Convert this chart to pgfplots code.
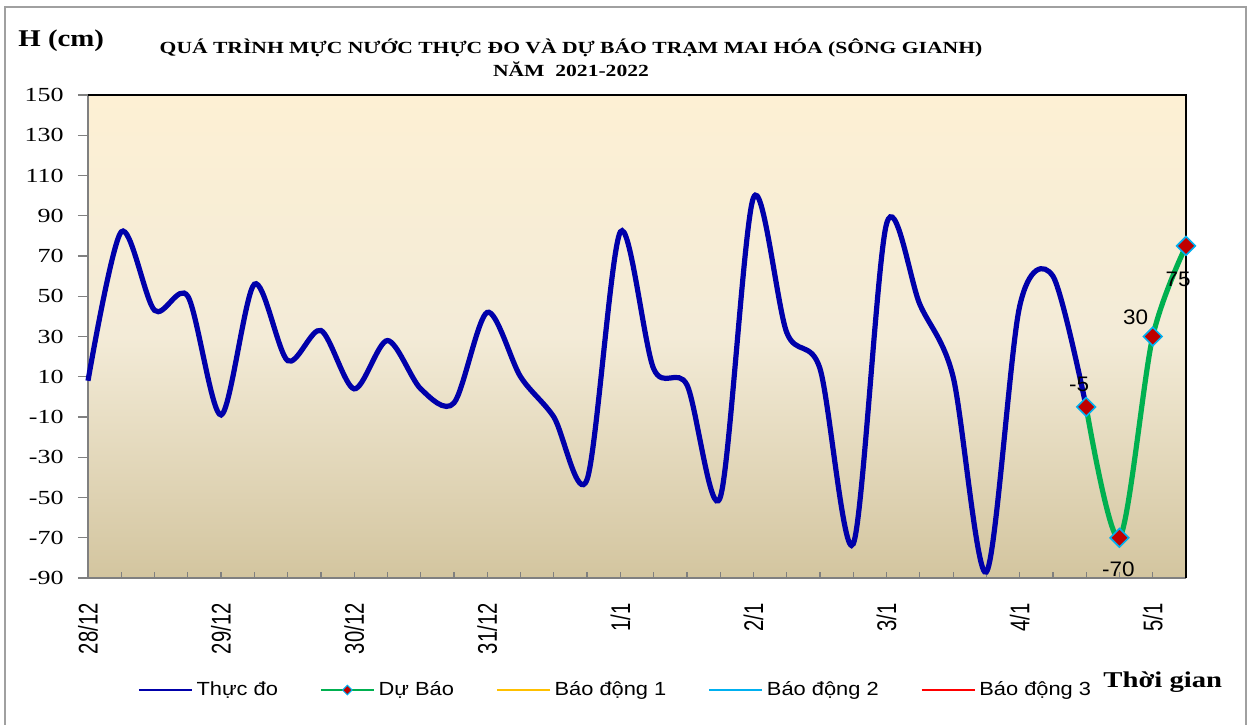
\documentclass[border=0pt]{standalone}
\usepackage{fontspec}
\setmainfont{Liberation Serif}
\setsansfont{Liberation Sans}
\newfontfamily\yfont[FakeStretch=1.3]{Liberation Serif}
\newfontfamily\ttlfont[FakeStretch=1.27]{Liberation Serif}
\newfontfamily\hfont[FakeStretch=1.2]{Liberation Serif}
\newfontfamily\xfont[FakeStretch=0.75]{Liberation Sans}
\newfontfamily\legfont[FakeStretch=1.15]{Liberation Sans}
\newfontfamily\lblfont[FakeStretch=1.07]{Liberation Sans}
\usepackage{pgfplots}
\pgfplotsset{compat=1.18}
\definecolor{bgtop}{RGB}{253,240,212}
\definecolor{bgmid}{RGB}{243,235,215}
\definecolor{bgbot}{RGB}{211,197,159}
\definecolor{axisgray}{RGB}{128,128,128}
\definecolor{framegray}{RGB}{160,160,160}
\definecolor{obsblue}{RGB}{0,0,170}
\definecolor{fcgreen}{RGB}{0,176,80}
\definecolor{mkred}{RGB}{192,0,0}
\definecolor{mkcyan}{RGB}{0,176,240}
\definecolor{bd1}{RGB}{255,192,0}
\definecolor{bd2}{RGB}{0,176,240}
\definecolor{bd3}{RGB}{255,0,0}
\begin{document}
\begin{tikzpicture}
\useasboundingbox (0,0) rectangle (626.5pt,-362pt);
\draw[framegray, line width=0.8pt] (2.5pt,-370pt) -- (2.5pt,-3.5pt) -- (623pt,-3.5pt) -- (623pt,-370pt);
\begin{axis}[
  at={(44pt,-289pt)}, anchor=south west,
  scale only axis, width=549pt, height=241.5pt,
  xmin=0, xmax=33, ymin=-90, ymax=150,
  clip=false,
  axis x line*=bottom, axis y line*=left,
  axis line style={-, draw=axisgray, line width=0.8pt},
  axis background/.style={top color=bgtop, bottom color=bgbot, middle color=bgmid},
  xtick={0,4,...,32},
  xticklabels={28/12,29/12,30/12,31/12,1/1,2/1,3/1,4/1,5/1},
  minor xtick={0,...,33},
  ytick={-90,-70,...,150},
  yticklabels={-90,-70,-50,-30,-10,10,30,50,70,90,110,130,150},
  xtick align=inside, ytick align=outside,
  major tick length=3pt, minor tick length=3pt,
  ytick style={/pgfplots/major tick length=5pt},
  tick style={draw=axisgray, line width=0.6pt},
  xticklabel style={rotate=90, anchor=east, inner sep=0pt, font=\xfont\fontsize{13.5pt}{14pt}\selectfont},
  xticklabel shift=12.5pt,
  yticklabel style={anchor=east, inner sep=0pt, font=\yfont\fontsize{10pt}{12pt}\selectfont},
  yticklabel shift=9pt,
  legend columns=5,
  legend style={at={(0.4814,-0.2319)}, anchor=center, draw=none, fill=none,
    font=\legfont\fontsize{9.5pt}{11pt}\selectfont,
    /tikz/every even column/.append style={column sep=19pt}},
  legend image code/.code={\draw[mark repeat=2,mark phase=2,#1] plot coordinates {(0pt,0pt) (13.25pt,0pt) (26.5pt,0pt)};},
]
\addplot[obsblue, line width=2.6pt, smooth, forget plot] coordinates {
(0,8) (1,82) (2,43) (3,50) (4,-9) (5,56) (6,18) (7,33) (8,4) (9,28)
(10,4) (11,-3) (12,42) (13,10) (14,-10) (15,-41) (16,82) (17,14) (18,6) (19,-50)
(20,99) (21,32) (22,14) (23,-73) (24,86) (25,46) (26,10) (27,-87) (28,45) (29,60) (30,-5)
};
\addplot[fcgreen, line width=2.6pt, smooth, forget plot, mark=square*, mark size=3.3pt,
  mark options={rotate=45, fill=mkred, draw=mkcyan, line width=0.8pt, solid}] coordinates {
(30,-5) (31,-70) (32,30) (33,75)
};
\addlegendimage{obsblue, line width=0.8pt}
\addlegendentry{Thực đo}
\addlegendimage{fcgreen, line width=0.8pt, mark=square*, mark size=1.7pt, mark options={rotate=45, fill=mkred, draw=mkcyan, line width=0.5pt}}
\addlegendentry{Dự Báo}
\addlegendimage{bd1, line width=0.8pt}
\addlegendentry{Báo động 1}
\addlegendimage{bd2, line width=0.8pt}
\addlegendentry{Báo động 2}
\addlegendimage{bd3, line width=0.8pt}
\addlegendentry{Báo động 3}
\draw[black, line width=0.8pt] (rel axis cs:0,1) -- (rel axis cs:1,1) -- (rel axis cs:1,0);
\node[font=\lblfont\fontsize{10.5pt}{12pt}\selectfont, xshift=-3.5pt, yshift=11.5pt] at (axis cs:30,-5) {-5};
\node[font=\lblfont\fontsize{10.5pt}{12pt}\selectfont, xshift=-0.5pt, yshift=-16pt] at (axis cs:31,-70) {-70};
\node[font=\lblfont\fontsize{10.5pt}{12pt}\selectfont, xshift=-8.5pt, yshift=9.5pt] at (axis cs:32,30) {30};
\node[font=\lblfont\fontsize{10.5pt}{12pt}\selectfont, xshift=-4pt, yshift=-16.5pt] at (axis cs:33,75) {75};
\end{axis}
\node[anchor=west, font=\hfont\bfseries\fontsize{12pt}{14pt}\selectfont, inner sep=0pt] at (9pt,-20.5pt) {H (cm)};
\node[align=center, font=\ttlfont\bfseries\fontsize{8.5pt}{11.5pt}\selectfont] at (285.5pt,-29pt) {QUÁ TRÌNH MỰC NƯỚC THỰC ĐO VÀ DỰ BÁO  TRẠM MAI HÓA (SÔNG GIANH)\\NĂM~ 2021-2022};
\node[anchor=base west, font=\ttlfont\bfseries\fontsize{11.3pt}{13pt}\selectfont, inner sep=0pt] at (551.5pt,-343.5pt) {Thời gian};
\end{tikzpicture}
\end{document}
